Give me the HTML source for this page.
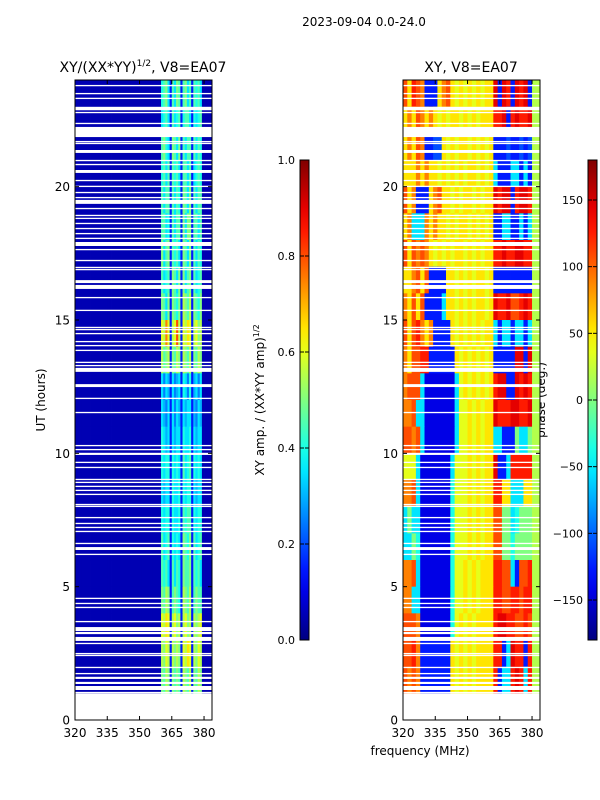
<!DOCTYPE html>
<html><head><meta charset="utf-8"><style>
html,body{margin:0;padding:0;background:#fff;}
svg{display:block;font-family:"DejaVu Sans","Liberation Sans",sans-serif;}
</style></head><body>
<svg id="fig" width="600" height="800" viewBox="0 0 600 800" xmlns="http://www.w3.org/2000/svg">
<rect width="600" height="800" fill="#fff"/>
<text x="364" y="26" font-size="12" text-anchor="middle">2023-09-04 0.0-24.0</text>
<text x="143" y="72" font-size="14" text-anchor="middle">XY/(XX*YY)<tspan font-size="9" dy="-6">1/2</tspan><tspan dy="6">, V8=EA07</tspan></text>
<text x="471" y="72" font-size="14" text-anchor="middle">XY, V8=EA07</text>
<text x="45" y="400" font-size="12" text-anchor="middle" transform="rotate(-90 45 400)">UT (hours)</text>
<text x="420" y="755" font-size="12" text-anchor="middle">frequency (MHz)</text>
<text x="264" y="400" font-size="12" text-anchor="middle" transform="rotate(-90 264 400)">XY amp. / (XX*YY amp)<tspan font-size="8" dy="-5">1/2</tspan></text>
<text x="545" y="400" font-size="12" text-anchor="middle" transform="rotate(-90 545 400)">phase (deg.)</text>
<g id="layer"></g>
</svg>
<script>
// ---- data ----
const freqStartMHz = 320;
const tickFreqs = [320, 335, 350, 365, 380];
const tickHours = [0, 5, 10, 15, 20];
const ampTicks = ["0.0", "0.2", "0.4", "0.6", "0.8", "1.0"];
const phaseTicks = [-150, -100, -50, 0, 50, 100, 150];
// amplitude rows: hour 23-24 first ... hour 1-2 last; 1 MHz columns, a=0.0 .. u=1.0
const ampRows = [
"bbbbbbbbbbbbbbbbbbbbbbbbbbbbbbbbbbbbbbbbijkhdjhkjdjkhjdjijhbbbbb",
"bbbbbbbbbbbbbbbbbbbbbbbbbbbbbbbbbbbbbbbbhijhdjhijdijjhdihijbbbbb",
"bbbbbbbbbbbbbbbbbbbbbbbbbbbbbbbbbbbbbbbbjkihdkjhkdjhjjdjhjibbbbb",
"bbbbbbbbbbbbbbbbbbbbbbbbbbbbbbbbbbbbbbbbijhjdjijhdjjhjdhijibbbbb",
"bbbbbbbbbbbbbbbbbbbbbbbbbbbbbbbbbbbbbbbbjhjjdjhjidkjhkdjhjjbbbbb",
"bbbbbbbbbbbbbbbbbbbbbbbbbbbbbbbbbbbbbbbbjjhidjhjjdkhkkdjjhjbbbbb",
"bbbbbbbbbbbbbbbbbbbbbbbbbbbbbbbbbbbbbbbbkhjkdjijhdkjhkdjhjibbbbb",
"bbbbbbbbbbbbbbbbbbbbbbbbbbbbbbbbbbbbbbbbjhijdkjhkdkhjkdjhijbbbbb",
"bbbbbbbbbbbbbbbbbbbbbbbbbbbbbbbbbbbbbbbbkjhkdkjikdlkjldkjikbbbbb",
"bbbbbbbbbbbbbbbbbbbbbbbbbbbbbbbbbbbbbbbbmlpmdlmqldmlnmdlmklbbbbb",
"bbbbbbbbbbbbbbbbbbbbbbbbbbbbbbbbbbbbbbbbljkldkjlkdlkjldkjlkbbbbb",
"bbbbbbbbbbbbbbbbbbbbbbbbbbbbbbbbbbbbbbbbhfhgdhfghdihfidghfhbbbbb",
"bbbbbbbbbbbbbbbbbbbbbbbbbbbbbbbbbbbbbbbbhgfhdhfhgdhghhdgfhgbbbbb",
"bbbbbbbbbbbbbbbbbbbbbbbbbbbbbbbbbbbbbbbbihghdhghhdihhidhghhbbbbb",
"bbbbbbbbbbbbbbbbbbbbbbbbbbbbbbbbbbbbbbbbihiidihihdjhijdihihbbbbb",
"bbbbbbbbbbbbbbbbbbbbbbbbbbbbbbbbbbbbbbbbhghhdihhidihiidhghhbbbbb",
"bbbbbbbbbbbbbbbbbbbbbbbbbbbbbbbbbbbbbbbbihiidihhidjijjdihiibbbbb",
"bbbbbbbbbbbbbbbbbbbbbbbbbbbbbbbbbbbbbbbbjhijdihihdkjikdjhijbbbbb",
"bbbbbbbbbbbbbbbbbbbbbbbbbbbbbbbbbbbbbbbbjijhdjhjidkjjkdjijhbbbbb",
"bbbbbbbbbbbbbbbbbbbbbbbbbbbbbbbbbbbbbbbbkjlkdjkjidlkjldjkjjbbbbb",
"bbbbbbbbbbbbbbbbbbbbbbbbbbbbbbbbbbbbbbbbmlnmdlmkldlmkldlklmbbbbb",
"bbbbbbbbbbbbbbbbbbbbbbbbbbbbbbbbbbbbbbbblkmldlklkdmlnmdlkmlbbbbb",
"bbbbbbbbbbbbbbbbbbbbbbbbbbbbbbbbbbbbbbbbkjlkdkjkjdlkjldkjlkbbbbb"
];
// phase rows: hour 23-24 first; 2 MHz columns, a=-180 .. u=+180
const phaseRows = [
"qnrqpdddnpqnmnmnmnmnnsdsrdsrsdll",
"npnqpnpnmnmnnmnmnmnnnrrsdrsrrsll",
"npnqpddeenmnmnnmnmnmndddeddedell",
"nnnpnpnnmnmnmnmnnmnmnhdddhhdhdll",
"qnpdddnpqnnmnmnnmnmnnsrssdrssrll",
"nphhhpnpnnmnmnnmnmnmnddhhddhdhll",
"qnqpqpnmnmnmnnmnmnmnnrrsrrssrrll",
"nnpqnqddddnnmnmnmnnmndddddddddll",
"pnqnqddddhnnmnmnmnnmnsrrsqqrsrll",
"qnqrpnpddddnmnmnmnmnnhdhhdhhdhll",
"pnqqrrddddddnmnmnmnmndddddssdsll",
"pqqqhccccccchmnmnmnmnrssddsrsrll",
"ppqhhccccccchmmnmnmnnsrrrssrrsll",
"qqpqhccccccchmmnmnmnnhhdddkhhkll",
"mmmhccccccchmmmnmnmnnsddhrrrrrll",
"ppqhcccccccimmmnmnmnnrrnnhhhnnll",
"hkhhcccccccimmmnmnmnnqqkkhikkkll",
"hhkicccccccimmmnmnmnnqqkkikkkkll",
"ppqhcccccccimmnmnmnnnrrqqhdqqrll",
"pphhcccccccimmnmnmnnnrrqqrrqrrll",
"qqqpcccccccimnmnmnnnnrssrrqqrqll",
"qqrpdddddddnmnmnmnnnnrrdhsrrdrll",
"qpqpdddddddnmnmnmnnnnrdhhrsrhrll"
];
// flagged (blank) times: [centre hour, duration hours]
const gapCentres = [23.79,23.49,23.31,22.93,22.78,22.37,22.05,21.69,21.62,21.32,20.98,20.83,20.57,20.23,20.01,19.78,19.59,19.43,19.18,18.92,18.81,18.62,18.43,18.24,18.06,17.85,17.64,17.23,16.97,16.89,16.44,16.24,15.84,15.36,14.72,14.64,14.49,14.19,14.04,13.86,13.41,13.29,13.13,12.54,12.06,11.53,10.29,10.14,9.98,9.66,9.47,9.02,8.91,8.76,8.61,8.46,8.08,8.01,7.59,7.37,7.22,7.07,6.62,6.43,6.21,4.56,4.37,4.22,3.69,3.41,3.26,3.04,2.87,2.49,2.42,1.97,1.74,1.58,1.39,1.2,1.03];
const gapDurations = [0.05,0.05,0.05,0.13,0.05,0.05,0.38,0.05,0.05,0.11,0.05,0.05,0.11,0.05,0.05,0.05,0.05,0.15,0.05,0.05,0.05,0.05,0.05,0.05,0.05,0.15,0.05,0.05,0.05,0.05,0.11,0.15,0.05,0.05,0.05,0.05,0.05,0.05,0.05,0.05,0.05,0.05,0.15,0.11,0.05,0.05,0.05,0.05,0.08,0.05,0.05,0.05,0.05,0.05,0.05,0.05,0.05,0.05,0.05,0.05,0.05,0.05,0.05,0.11,0.05,0.05,0.05,0.05,0.05,0.15,0.08,0.15,0.05,0.05,0.05,0.05,0.05,0.08,0.08,0.15,0.05];

// ---- helpers ----
const NS = "http://www.w3.org/2000/svg";
const layer = document.getElementById("layer");
function jet(v){
  v = Math.max(0, Math.min(1, v));
  const c = x => Math.round(255*Math.max(0, Math.min(1, x)));
  return "rgb(" + c(1.5-Math.abs(4*v-3)) + "," + c(1.5-Math.abs(4*v-2)) + "," + c(1.5-Math.abs(4*v-1)) + ")";
}
function mk(tag, attrs, parent){
  const e = document.createElementNS(NS, tag);
  for (const k in attrs) e.setAttribute(k, attrs[k]);
  (parent || layer).appendChild(e);
  return e;
}
const Y0 = 720, Y1 = 80, HMAX = 24;
const yOf = h => Y0 - (h / HMAX) * (Y0 - Y1);
const FMAX = 383.7;
function panelX(x0, x1){ return f => x0 + (f - freqStartMHz) / (FMAX - freqStartMHz) * (x1 - x0); }
const lv = ch => (ch.charCodeAt(0) - 97) / 20;

function drawPanel(name, x0, x1, rows, colMHz){
  const xOf = panelX(x0, x1);
  const g = mk("g", {});
  
  
  rows.forEach((row, i) => {
    const hTop = 24 - i, hBot = hTop - 1;
    for (let j = 0; j < row.length; j++){
      const fa = freqStartMHz + j*colMHz, fb = fa + colMHz;
      if (fa >= FMAX) continue;
      const xa = xOf(fa), xb = Math.min(xOf(fb), x1);
      const r = mk("rect", {x: xa.toFixed(2), y: yOf(hTop).toFixed(2), width: (xb-xa+0.4).toFixed(2), height: (yOf(hBot)-yOf(hTop)+0.4).toFixed(2), fill: jet(lv(row[j]))}, g);
      
      
    }
  });
  mk("rect", {x: x0, y: yOf(1), width: x1-x0, height: Y0-yOf(1), fill: "#fff"}, g);
  gapCentres.forEach((c, k) => {
    const d = gapDurations[k];
    const gr = mk("rect", {x: x0, y: yOf(c + d/2).toFixed(2), width: x1-x0, height: ((d/HMAX)*(Y0-Y1)).toFixed(2), fill: "#fff"}, g);
    
    
  });
  const fr = mk("rect", {x: x0, y: Y1, width: x1-x0, height: Y0-Y1, fill: "none", stroke: "#000", "stroke-width": 1});
  
  
  tickHours.forEach(h => {
    const y = yOf(h);
    mk("line", {x1: x0, x2: x0+4, y1: y, y2: y, stroke: "#000"});
    mk("line", {x1: x1, x2: x1-4, y1: y, y2: y, stroke: "#000"});
    const t = mk("text", {x: x0-5, y: y+4.5, "font-size": 12, "text-anchor": "end"});
    t.textContent = h;
    
    
  });
  tickFreqs.forEach(f => {
    const x = xOf(f);
    mk("line", {x1: x, x2: x, y1: Y0, y2: Y0-4, stroke: "#000"});
    mk("line", {x1: x, x2: x, y1: Y1, y2: Y1+4, stroke: "#000"});
    const t = mk("text", {x: x, y: Y0+17, "font-size": 12, "text-anchor": "middle"});
    t.textContent = f;
    
    
  });
}
drawPanel("amplitude", 75, 212, ampRows, 1);
drawPanel("phase", 403, 540, phaseRows, 2);

function colorbar(name, x, labels, posFn){
  const defs = mk("defs", {});
  const lg = mk("linearGradient", {id: name + "-grad", x1: 0, y1: 1, x2: 0, y2: 0}, defs);
  for (let i = 0; i <= 20; i++) mk("stop", {offset: i/20, "stop-color": jet(i/20)}, lg);
  const r = mk("rect", {x: x, y: 160, width: 9, height: 480, fill: "url(#" + name + "-grad)", stroke: "#000", "stroke-width": 1});
  
  
  labels.forEach((lab, i) => {
    const y = posFn(i);
    mk("line", {x1: x, x2: x+4, y1: y, y2: y, stroke: "#000"});
    mk("line", {x1: x+9, x2: x+5, y1: y, y2: y, stroke: "#000"});
    const t = mk("text", {x: x-5, y: y+4, "font-size": 11, "text-anchor": "end"});
    t.textContent = String(lab).replace("-", "\u2212");
    
    
  });
}
colorbar("amp", 300, ampTicks, i => 640 - i*96);
colorbar("phase", 588, phaseTicks, i => 400 - phaseTicks[i]/180*240);
</script>
</body></html>
